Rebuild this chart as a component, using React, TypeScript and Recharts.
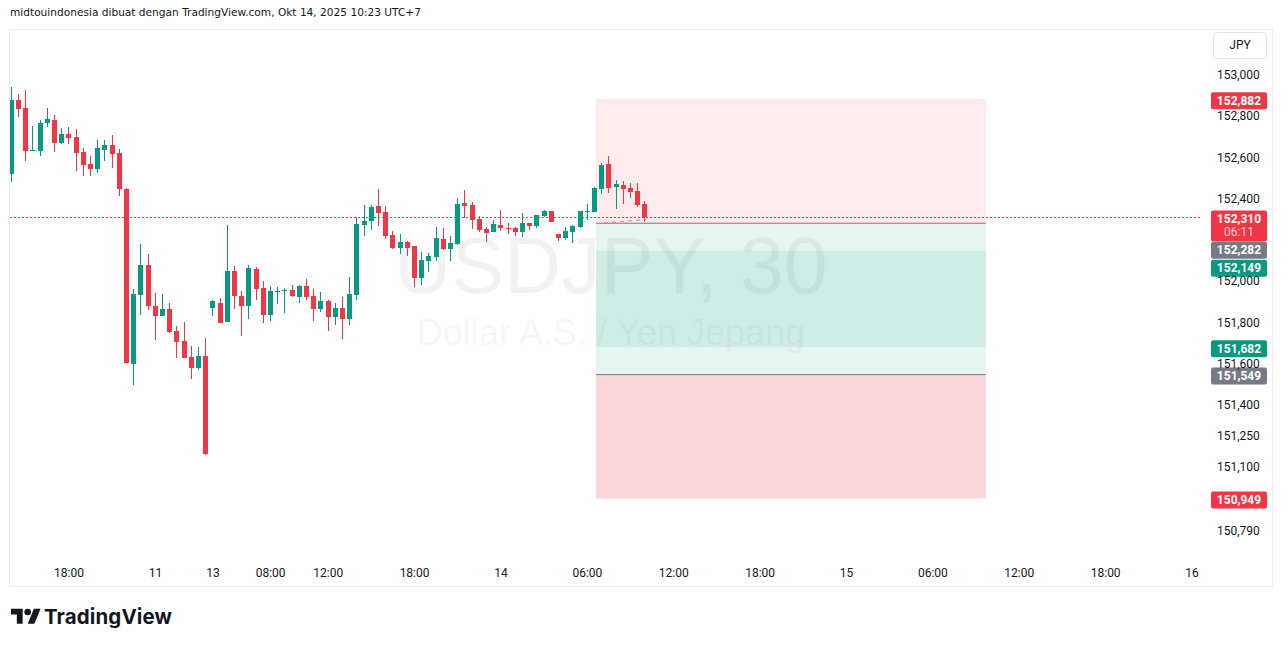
import { ComposedChart, Bar, XAxis, YAxis, ReferenceArea, ReferenceLine } from "recharts";

const GREEN = "#089981";
const RED = "#f23645";
const GRAY = "#787b86";
const TEXT = "#131722";

// USDJPY 30m candles, Oct 10 14:00 -> Oct 14 10:00 (UTC+7)
const opens = [
  152.522, 152.879, 152.84, 152.633, 152.633, 152.768, 152.782, 152.672, 152.714, 152.7,
  152.627, 152.569, 152.546, 152.637, 152.661, 152.622, 152.448, 151.602, 151.936, 152.08,
  151.881, 151.834, 151.867, 151.76, 151.712, 151.634, 151.583, 151.639, 151.873, 151.896,
  151.805, 152.051, 151.928, 151.883, 152.061, 151.969, 151.839, 151.951, 151.955, 151.959,
  151.926, 151.978, 151.93, 151.869, 151.906, 151.83, 151.872, 151.82, 151.936, 152.275,
  152.294, 152.366, 152.337, 152.225, 152.162, 152.191, 152.172, 152.018, 152.099, 152.12,
  152.206, 152.157, 152.182, 152.38, 152.37, 152.303, 152.254, 152.24, 152.274, 152.259,
  152.259, 152.24, 152.283, 152.269, 152.317, 152.341, 152.23, 152.211, 152.24, 152.264,
  152.338, 152.337, 152.449, 152.569, 152.459, 152.467, 152.453, 152.438, 152.375,
];
const highs = [
  152.942, 152.908, 152.927, 152.753, 152.782, 152.84, 152.806, 152.743, 152.748, 152.738,
  152.646, 152.608, 152.685, 152.685, 152.709, 152.642, 152.453, 151.964, 152.182, 152.133,
  151.944, 151.939, 151.896, 151.785, 151.804, 151.688, 151.683, 151.726, 151.91, 151.922,
  152.274, 152.075, 151.954, 152.08, 152.07, 152.002, 151.978, 151.973, 151.97, 151.983,
  151.983, 152.012, 151.964, 151.949, 151.91, 151.896, 151.925, 152.022, 152.312, 152.37,
  152.37, 152.448, 152.366, 152.245, 152.23, 152.196, 152.174, 152.144, 152.138, 152.264,
  152.259, 152.22, 152.404, 152.443, 152.386, 152.317, 152.264, 152.298, 152.346, 152.283,
  152.264, 152.332, 152.285, 152.324, 152.346, 152.343, 152.232, 152.264, 152.274, 152.343,
  152.375, 152.458, 152.573, 152.608, 152.492, 152.487, 152.477, 152.477, 152.39,
];
const lows = [
  152.483, 152.798, 152.584, 152.631, 152.609, 152.75, 152.629, 152.667, 152.667, 152.537,
  152.512, 152.512, 152.527, 152.584, 152.551, 152.415, 151.605, 151.5, 151.839, 151.863,
  151.718, 151.832, 151.752, 151.631, 151.629, 151.529, 151.573, 151.161, 151.834, 151.799,
  151.803, 151.869, 151.738, 151.82, 151.912, 151.801, 151.81, 151.893, 151.849, 151.925,
  151.897, 151.91, 151.81, 151.854, 151.762, 151.791, 151.723, 151.791, 151.912, 152.222,
  152.251, 152.27, 152.207, 152.159, 152.133, 152.123, 151.975, 151.985, 152.048, 152.099,
  152.153, 152.099, 152.177, 152.308, 152.254, 152.24, 152.191, 152.238, 152.245, 152.23,
  152.22, 152.216, 152.249, 152.259, 152.312, 152.288, 152.196, 152.201, 152.186, 152.262,
  152.298, 152.335, 152.425, 152.429, 152.353, 152.375, 152.404, 152.361, 152.288,
];
const closes = [
  152.879, 152.837, 152.633, 152.637, 152.768, 152.787, 152.672, 152.714, 152.696, 152.624,
  152.566, 152.546, 152.646, 152.661, 152.619, 152.449, 151.607, 151.939, 152.08, 151.883,
  151.834, 151.867, 151.757, 151.708, 151.631, 151.583, 151.639, 151.166, 151.906, 151.801,
  152.051, 151.932, 151.883, 152.064, 151.965, 151.839, 151.954, 151.956, 151.96, 151.93,
  151.978, 151.926, 151.869, 151.906, 151.83, 151.873, 151.82, 151.939, 152.278, 152.293,
  152.361, 152.333, 152.222, 152.162, 152.191, 152.162, 152.018, 152.104, 152.123, 152.211,
  152.157, 152.186, 152.375, 152.366, 152.298, 152.249, 152.235, 152.278, 152.259, 152.254,
  152.24, 152.283, 152.269, 152.322, 152.341, 152.29, 152.211, 152.245, 152.269, 152.341,
  152.341, 152.453, 152.564, 152.454, 152.472, 152.449, 152.435, 152.37, 152.31,
];

// bar index of each time label (30 min bars, weekend gap removed)
const timeTicks = [8, 20, 28, 36, 44, 56, 68, 80, 92, 104, 116, 128, 140, 152, 164];
const timeLabels = ["18:00", "11", "13", "08:00", "12:00", "18:00", "14", "06:00", "12:00", "18:00", "15", "06:00", "12:00", "18:00", "16"];
const priceTicks = [153, 152.8, 152.6, 152.4, 152, 151.8, 151.6, 151.4, 151.25, 151.1, 150.79];

const lastPrice = 152.31;
const countdown = "06:11";
const shortPos = { entry: 152.282, stop: 152.882, target: 151.682 };
const longPos = { entry: 151.549, stop: 150.949, target: 152.149 };
const toolFrom = 81.2;
const toolTo = 135.35;

const candles = opens.map((o, i) => ({
  i,
  o,
  h: highs[i],
  l: lows[i],
  c: closes[i],
  range: [lows[i], highs[i]],
}));

const fmt = (v: number) => v.toFixed(3).replace(".", ",");

const Candle = (props: any) => {
  const { x, y, width, height, payload } = props;
  if (x == null || y == null) return null;
  const top = Math.min(y, y + height);
  const span = Math.abs(height);
  const { o, h, l, c } = payload;
  const py = (v: number) => top + ((h - v) / (h - l || 1)) * span;
  const color = c >= o ? GREEN : RED;
  const bx = Math.round(x + width / 2 - 2.5);
  const bt = Math.round(py(Math.max(o, c)));
  const bb = Math.round(py(Math.min(o, c)));
  return (
    <g shapeRendering="crispEdges">
      <rect x={bx + 2} y={Math.round(top)} width={1} height={Math.max(1, Math.round(span))} fill={color} />
      <rect x={bx} y={bt} width={5} height={Math.max(1, bb - bt)} fill={color} />
    </g>
  );
};

// dotted last-price line snapped to the pixel grid
const DottedLine = (props: any) => {
  const { x1, x2, y1 } = props;
  if (x1 == null || y1 == null) return null;
  const y = Math.round(y1) + 0.5;
  return <line x1={x1} x2={x2} y1={y} y2={y} stroke={RED} strokeWidth={1} strokeDasharray="2 2" />;
};

const PriceTag = (props: any) => {
  const { viewBox, text, bg, dy = 0, sub } = props;
  if (!viewBox) return null;
  const x = viewBox.x + viewBox.width + 11;
  const y = viewBox.y + dy;
  const h = sub ? 31 : 17;
  return (
    <g>
      <rect x={x} y={y - 8} width={56} height={h} rx={2} fill={bg} />
      <text x={x + 28} y={y + 4.5} textAnchor="middle" fill="#fff" fontSize={12} fontWeight={700} fontFamily="Roboto">
        {text}
      </text>
      {sub && (
        <text x={x + 28} y={y + 18} textAnchor="middle" fill="rgba(255,255,255,0.8)" fontSize={12} fontFamily="Roboto">
          {sub}
        </text>
      )}
    </g>
  );
};

const TimeTick = (props: any) => {
  const { x, y, payload } = props;
  const idx = timeTicks.indexOf(payload.value);
  return (
    <text x={x} y={y} dy="0.71em" textAnchor="middle" fill={TEXT} fontSize={12} fontFamily="Roboto">
      {timeLabels[idx]}
    </text>
  );
};

const PriceTick = (props: any) => {
  const { x, y, payload } = props;
  return (
    <text x={x} y={y} dy={4} textAnchor="start" fill={TEXT} fontSize={12} fontFamily="Roboto">
      {fmt(payload.value)}
    </text>
  );
};

export default function App() {
  return (
    <div style={{ position: "fixed", left: 0, top: 0, width: 1281, height: 646, background: "#fff", overflow: "hidden" }}>
      <div style={{ position: "absolute", left: 10, top: 6, fontFamily: "DejaVu Sans", fontSize: 10.6, color: TEXT, whiteSpace: "nowrap" }}>
        midtouindonesia dibuat dengan TradingView.com, Okt 14, 2025 10:23 UTC+7
      </div>
      <div style={{ position: "absolute", left: 9, top: 29, width: 1262, height: 556, border: "1px solid #ececec" }} />
      <div
        style={{
          position: "absolute",
          left: 10,
          top: 226,
          width: 1190,
          textAlign: "center",
          fontFamily: "Liberation Sans",
          color: "rgba(0,0,0,0.05)",
          lineHeight: 1,
        }}
      >
        <div style={{ fontSize: 79, marginLeft: 12 }}>USDJPY, 30</div>
        <div style={{ fontSize: 36, marginTop: 10, marginLeft: 12 }}>Dollar A.S. / Yen Jepang</div>
      </div>
      <div style={{ position: "absolute", left: 10, top: 32 }}>
        <ComposedChart width={1261} height={554} data={candles} margin={{ top: 0, right: 0, bottom: 0, left: 0 }}>
          <XAxis
            type="number"
            dataKey="i"
            domain={[-0.2, 165.1]}
            allowDataOverflow
            ticks={timeTicks}
            height={28}
            axisLine={false}
            tickLine={false}
            tickSize={0}
            tickMargin={10}
            tick={<TimeTick />}
            interval={0}
          />
          <YAxis
            orientation="right"
            domain={[150.661, 153.208]}
            allowDataOverflow
            ticks={priceTicks}
            width={71}
            axisLine={false}
            tickLine={false}
            tickSize={0}
            tickMargin={17}
            tick={<PriceTick />}
            interval={0}
          />
          <ReferenceArea x1={toolFrom} x2={toolTo} y1={shortPos.entry} y2={shortPos.stop} fill={RED} fillOpacity={0.1} stroke="none" />
          <ReferenceArea x1={toolFrom} x2={toolTo} y1={shortPos.target} y2={shortPos.entry} fill={GREEN} fillOpacity={0.1} stroke="none" />
          <ReferenceArea x1={toolFrom} x2={toolTo} y1={longPos.entry} y2={longPos.target} fill={GREEN} fillOpacity={0.1} stroke="none" />
          <ReferenceArea x1={toolFrom} x2={toolTo} y1={longPos.stop} y2={longPos.entry} fill={RED} fillOpacity={0.2} stroke="none" />
          <ReferenceLine
            segment={[{ x: toolFrom, y: shortPos.entry }, { x: toolTo, y: shortPos.entry }]}
            stroke={GRAY}
            strokeWidth={1}
          />
          <ReferenceLine
            segment={[{ x: toolFrom, y: longPos.entry }, { x: toolTo, y: longPos.entry }]}
            stroke={GRAY}
            strokeWidth={1}
          />
          <ReferenceLine
            segment={[{ x: toolFrom, y: 152.28 }, { x: 88.2, y: 152.3 }]}
            stroke="#9598a1"
            strokeDasharray="4 4"
          />
          <ReferenceLine y={lastPrice} stroke={RED} shape={<DottedLine />} />
          <Bar dataKey="range" barSize={5} shape={<Candle />} isAnimationActive={false} />
          <ReferenceLine y={shortPos.stop} stroke="none" label={<PriceTag text={fmt(shortPos.stop)} bg={RED} dy={1} />} />
          <ReferenceLine y={lastPrice} stroke="none" label={<PriceTag text={fmt(lastPrice)} sub={countdown} bg={RED} dy={1} />} />
          <ReferenceLine y={shortPos.entry} stroke="none" label={<PriceTag text={fmt(shortPos.entry)} bg={GRAY} dy={26.5} />} />
          <ReferenceLine y={longPos.target} stroke="none" label={<PriceTag text={fmt(longPos.target)} bg={GREEN} dy={17} />} />
          <ReferenceLine y={shortPos.target} stroke="none" label={<PriceTag text={fmt(shortPos.target)} bg={GREEN} dy={1} />} />
          <ReferenceLine y={longPos.entry} stroke="none" label={<PriceTag text={fmt(longPos.entry)} bg={GRAY} dy={1} />} />
          <ReferenceLine y={longPos.stop} stroke="none" label={<PriceTag text={fmt(longPos.stop)} bg={RED} dy={1} />} />
        </ComposedChart>
      </div>
      <div
        style={{
          position: "absolute",
          left: 1213,
          top: 32,
          width: 52,
          height: 25,
          border: "1px solid #e0e3eb",
          borderRadius: 4,
          fontFamily: "Roboto",
          fontSize: 12,
          color: TEXT,
          textAlign: "center",
          lineHeight: "25px",
        }}
      >
        JPY
      </div>
      <div style={{ position: "absolute", left: 11, top: 604, display: "flex", alignItems: "center" }}>
        <svg width={30} height={24} viewBox="0 0 36 28">
          <path d="M14 22H7V11H0V4h14v18zM28 22h-8l7.5-18h8L28 22z" fill={TEXT} />
          <circle cx={20} cy={8} r={4} fill={TEXT} />
        </svg>
        <span style={{ fontFamily: "Inter", fontWeight: 700, fontSize: 20.5, color: TEXT, marginLeft: 3, letterSpacing: 0.1 }}>
          TradingView
        </span>
      </div>
    </div>
  );
}
